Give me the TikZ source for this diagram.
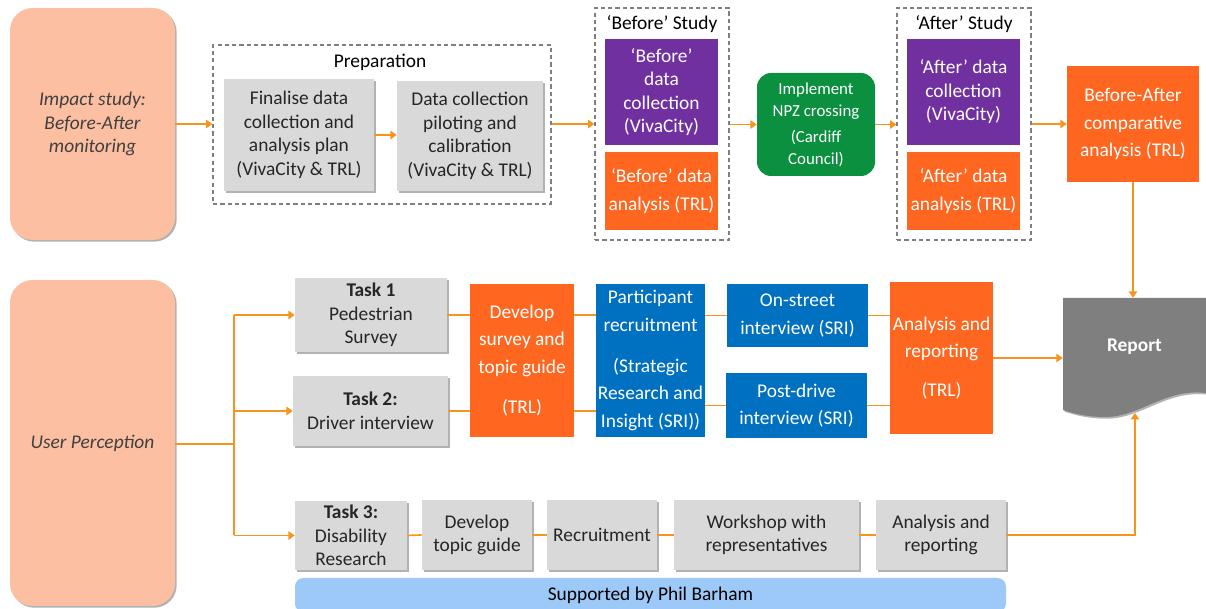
\documentclass[tikz,border=0pt]{standalone}
\usepackage{fontspec}
\setmainfont{Carlito}
\usepackage{tikz}
\usetikzlibrary{arrows.meta,shadows}
\definecolor{salmon}{HTML}{FCBFA2}
\definecolor{boxgray}{HTML}{D9D9D9}
\definecolor{trl}{HTML}{FF6720}
\definecolor{viva}{HTML}{7030A0}
\definecolor{sri}{HTML}{0070C0}
\definecolor{council}{HTML}{0A903E}
\definecolor{repgray}{HTML}{7F7F7F}
\definecolor{support}{HTML}{9DC9F8}
\definecolor{flow}{HTML}{F7941D}
\definecolor{dashgray}{HTML}{7F7F7F}
\definecolor{ink}{HTML}{262626}
\definecolor{soft}{HTML}{404040}
\newcommand{\fsnorm}{\fontsize{13.8}{16.7}\selectfont}
\newcommand{\fswide}{\fontsize{13.8}{19.4}\selectfont}
\newcommand{\fssmall}{\fontsize{12}{15.6}\selectfont}
\tikzset{
  boxat/.style n args={4}{at={({(#1+#3)/2},{(#2+#4)/2})},
    minimum width={(#3-#1)*0.025cm}, minimum height={(#4-#2)*0.025cm}},
  shad/.style={drop shadow={shadow xshift=1.2pt, shadow yshift=-1.2pt, opacity=0.3, fill=black}},
  boxbase/.style={inner sep=0pt, align=center, font=\fsnorm},
  gbox/.style={boxbase, fill=boxgray, text=ink, shad},
  obox/.style={boxbase, fill=trl, text=white},
  pbox/.style={boxbase, fill=viva, text=white},
  bbox/.style={boxbase, fill=sri, text=white},
  nbox/.style={boxbase, fill=council, text=white, rounded corners=10pt, font=\fssmall},
  rbox/.style={boxbase, fill=salmon, text=soft, rounded corners=16pt, font=\fsnorm\itshape, shad},
  grp/.style={draw=dashgray, dash pattern=on 3pt off 2.2pt, line width=0.9pt, inner sep=0pt},
  grplab/.style={text=black, font=\fsnorm},
  con/.style={draw=flow, line width=1.2pt},
  arr/.style={con, -{Triangle[length=4.5pt,width=6pt]}},
}
\begin{document}
\begin{tikzpicture}[x=0.025cm, y=-0.025cm]
  \useasboundingbox (0,0) rectangle (1206,609);

  % impact study row
  \node[rbox, boxat={10}{8}{175}{240}] (imp) {Impact study:\\Before-After\\monitoring};
  \node[grp, boxat={213}{45}{551}{204}] (prep) {};
  \node[grplab] (preplab) at (380,62) {Preparation};
  \node[gbox, boxat={224}{79}{374}{191}] (fin) {Finalise data\\collection and\\analysis plan\\(VivaCity \& TRL)};
  \node[gbox, boxat={397}{81}{543}{191}] (pil) {Data collection\\piloting and\\calibration\\(VivaCity \& TRL)};

  \node[grp, boxat={595}{8}{729}{240}] (bst) {};
  \node[grplab] (bstlab) at (662,24) {‘Before’ Study};
  \node[pbox, boxat={605}{39}{718}{145}] (bcol) {‘Before’\\data\\collection\\(VivaCity)};
  \node[obox, font=\fswide, boxat={605}{152}{718}{230}] (bana) {‘Before’ data\\analysis (TRL)};

  \node[nbox, boxat={757}{73}{875}{176}] (npz) {Implement\\NPZ crossing\\[3pt](Cardiff\\Council)};

  \node[grp, boxat={897}{8}{1031}{240}] (ast) {};
  \node[grplab] (astlab) at (964,24) {‘After’ Study};
  \node[pbox, boxat={907}{39}{1020}{145}] (acol) {‘After’ data\\collection\\(VivaCity)};
  \node[obox, font=\fswide, boxat={907}{152}{1020}{230}] (aana) {‘After’ data\\analysis (TRL)};

  \node[obox, font=\fswide, boxat={1067}{66}{1199}{182}] (ba) {Before-After\\comparative\\analysis (TRL)};

  % report
  \fill[repgray, shad] (1063,298) -- (1206,298) -- (1206,393)
    .. controls (1165,388) and (1140,417) .. (1105,417)
    .. controls (1088,417) and (1075,414) .. (1063,410) -- cycle;
  \node[boxbase, text=white, font=\fsnorm\bfseries, boxat={1063}{298}{1206}{396}] (report) {Report};
  \coordinate (repS) at (1135,413);

  % user perception row
  \node[rbox, boxat={10}{280}{175}{606}] (up) {User Perception};
  \node[gbox, boxat={295}{278}{447}{352}] (t1) {\textbf{Task 1}\\Pedestrian\\Survey};
  \node[gbox, boxat={293}{376}{448}{446}] (t2) {\textbf{Task 2:}\\Driver interview};
  \node[gbox, boxat={295}{501}{407}{570}] (t3) {\textbf{Task 3:}\\Disability\\Research};
  \node[obox, font=\fswide, boxat={470}{284}{574}{437}] (dev) {Develop\\survey and\\topic guide\\[9pt](TRL)};
  \node[bbox, font=\fswide, boxat={596}{284}{705}{437}] (par) {Participant\\recruitment\\[10pt](Strategic\\Research and\\Insight (SRI))};
  \node[bbox, font=\fswide, boxat={727}{284}{868}{347}] (ons) {On-street\\interview (SRI)};
  \node[bbox, font=\fswide, boxat={726}{373}{867}{438}] (pod) {Post-drive\\interview (SRI)};
  \node[obox, font=\fswide, boxat={890}{282}{993}{434}] (ana) {Analysis and\\reporting\\[8pt](TRL)};
  \node[gbox, boxat={422}{500}{532}{570}] (dtg) {Develop\\topic guide};
  \node[gbox, boxat={547}{500}{657}{570}] (rec) {Recruitment};
  \node[gbox, boxat={674}{500}{859}{570}] (wks) {Workshop with\\representatives};
  \node[gbox, boxat={876}{500}{1006}{570}] (an3) {Analysis and\\reporting};
  \node[boxbase, fill=support, text=black, rounded corners=6pt, boxat={295}{578}{1006}{612}] (sup) {Supported by Phil Barham};

  % connectors, top
  \draw[arr] (imp.east) -- (imp.east -| prep.west);
  \draw[arr] (fin.east) -- (pil.west |- fin.east);
  \draw[arr] (prep.east |- imp.east) -- (imp.east -| bst.west);
  \draw[arr] (bst.east |- npz.west) -- (npz.west);
  \draw[arr] (npz.east) -- (npz.east -| ast.west);
  \draw[arr] (ast.east |- ba.west) -- (ba.west);
  \draw[arr] (ba.south) -- (ba.south |- report.north);

  % connectors, bottom
  \coordinate (br) at (234,444);
  \draw[con] (up.east |- br) -- (br);
  \draw[con] (br |- t1.west) -- (br |- t3.west);
  \draw[arr] (br |- t1.west) -- (t1.west);
  \draw[arr] (br |- t2.west) -- (t2.west);
  \draw[arr] (br |- t3.west) -- (t3.west);
  \draw[con] (t1.east) -- (t1.east -| dev.west);
  \draw[con] (t2.east) -- (t2.east -| dev.west);
  \draw[con] (dev.east |- t1.east) -- (par.west |- t1.east);
  \draw[con] (dev.east |- t2.east) -- (par.west |- t2.east);
  \draw[con] (par.east |- ons.west) -- (ons.west);
  \draw[con] (par.east |- pod.west) -- (pod.west);
  \draw[con] (ons.east) -- (ons.east -| ana.west);
  \draw[con] (pod.east) -- (pod.east -| ana.west);
  \draw[arr] (ana.east) -- (ana.east -| report.west);
  \draw[con] (t3.east) -- (dtg.west);
  \draw[con] (dtg.east) -- (rec.west);
  \draw[con] (rec.east) -- (wks.west);
  \draw[con] (wks.east) -- (an3.west);
  \draw[arr] (an3.east) -| (repS);
\end{tikzpicture}
\end{document}
